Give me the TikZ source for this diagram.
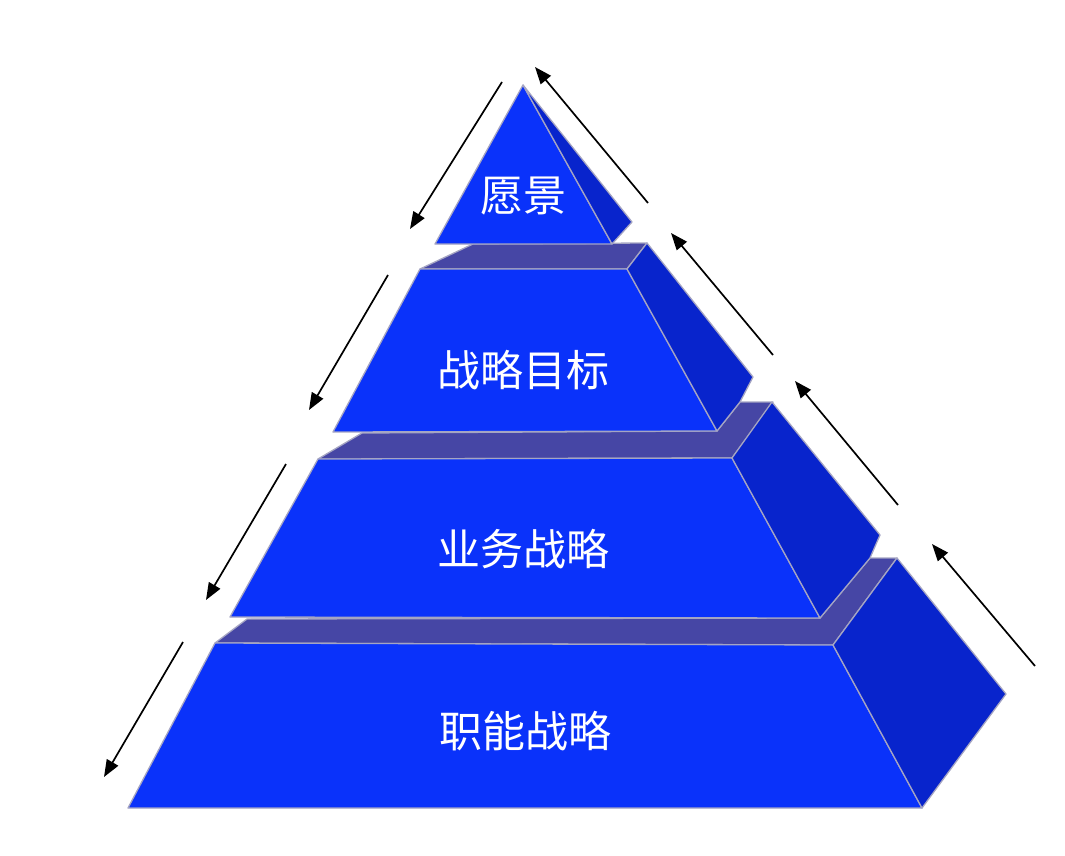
\documentclass[tikz,border=0pt]{standalone}
\usepackage{fontspec}
\newfontfamily\cjk{Noto Sans CJK SC}
\usetikzlibrary{arrows.meta}
\definecolor{frontblue}{RGB}{10,50,250}
\definecolor{sideblue}{RGB}{8,36,204}
\definecolor{ledgeblue}{RGB}{70,70,165}
\definecolor{edgegray}{RGB}{165,165,195}

\begin{document}
\begin{tikzpicture}[x=1pt, y=-1pt,
    face/.style={draw=edgegray, line width=1.3pt, line join=round},
    front/.style={face, fill=frontblue},
    side/.style={face, fill=sideblue},
    ledge/.style={face, fill=ledgeblue},
    tiertext/.style={text=white, font=\cjk\fontsize{43}{43}\selectfont},
    flow/.style={-{Triangle[length=17pt,width=13pt]}, line width=1.7pt}]
    \useasboundingbox (0,0) rectangle (1065,856);

    % Bottom tier
    \path[ledge] (215,643) -- (833,645) -- (897,558) -- (870,558) -- (820,618) -- (247,619) -- cycle;
    \path[front] (215,643) -- (833,645) -- (922,808) -- (128,808) -- cycle;
    \path[side] (833,645) -- (897,558) -- (1006,694) -- (922,808) -- cycle;

    % Third tier
    \path[ledge] (318,459) -- (732,458) -- (773,402) -- (740,402) -- (717,431) -- (362,433) -- cycle;
    \path[front] (318,459) -- (732,458) -- (820,618) -- (230,617) -- cycle;
    \path[side] (732,458) -- (772,402) -- (880,535) -- (870,558) -- (820,618) -- cycle;

    % Second tier
    \path[ledge] (420,269) -- (627,269) -- (647,243) -- (473,244) -- cycle;
    \path[front] (420,269) -- (627,269) -- (717,431) -- (333,432) -- cycle;
    \path[side] (627,269) -- (647,243) -- (753,377) -- (740,402) -- (717,431) -- cycle;

    % Apex
    \path[front] (523,85) -- (612,244) -- (435,244) -- cycle;
    \path[side] (523,85) -- (632,222) -- (612,244) -- cycle;

    \node[tiertext] (vision) at (523,196) {愿景};
    \node[tiertext] (goal) at (523,370) {战略目标};
    \node[tiertext] (business) at (523,549) {业务战略};
    \node[tiertext] (function) at (525,731) {职能战略};

    % Arrows down the left side
    \coordinate (dn1a) at (502,82);  \coordinate (dn1b) at (410,229);
    \coordinate (dn2a) at (388,275); \coordinate (dn2b) at (309,410);
    \coordinate (dn3a) at (286,464); \coordinate (dn3b) at (206,600);
    \coordinate (dn4a) at (183,642); \coordinate (dn4b) at (104,777);
    \foreach \i in {1,...,4}
        \draw[flow] (dn\i a) -- (dn\i b);

    % Arrows up the right side
    \coordinate (up1a) at (648,203);  \coordinate (up1b) at (535,67);
    \coordinate (up2a) at (773,355);  \coordinate (up2b) at (671,233);
    \coordinate (up3a) at (898,505);  \coordinate (up3b) at (795,381);
    \coordinate (up4a) at (1035,666); \coordinate (up4b) at (932,544);
    \foreach \i in {1,...,4}
        \draw[flow] (up\i a) -- (up\i b);
\end{tikzpicture}
\end{document}
